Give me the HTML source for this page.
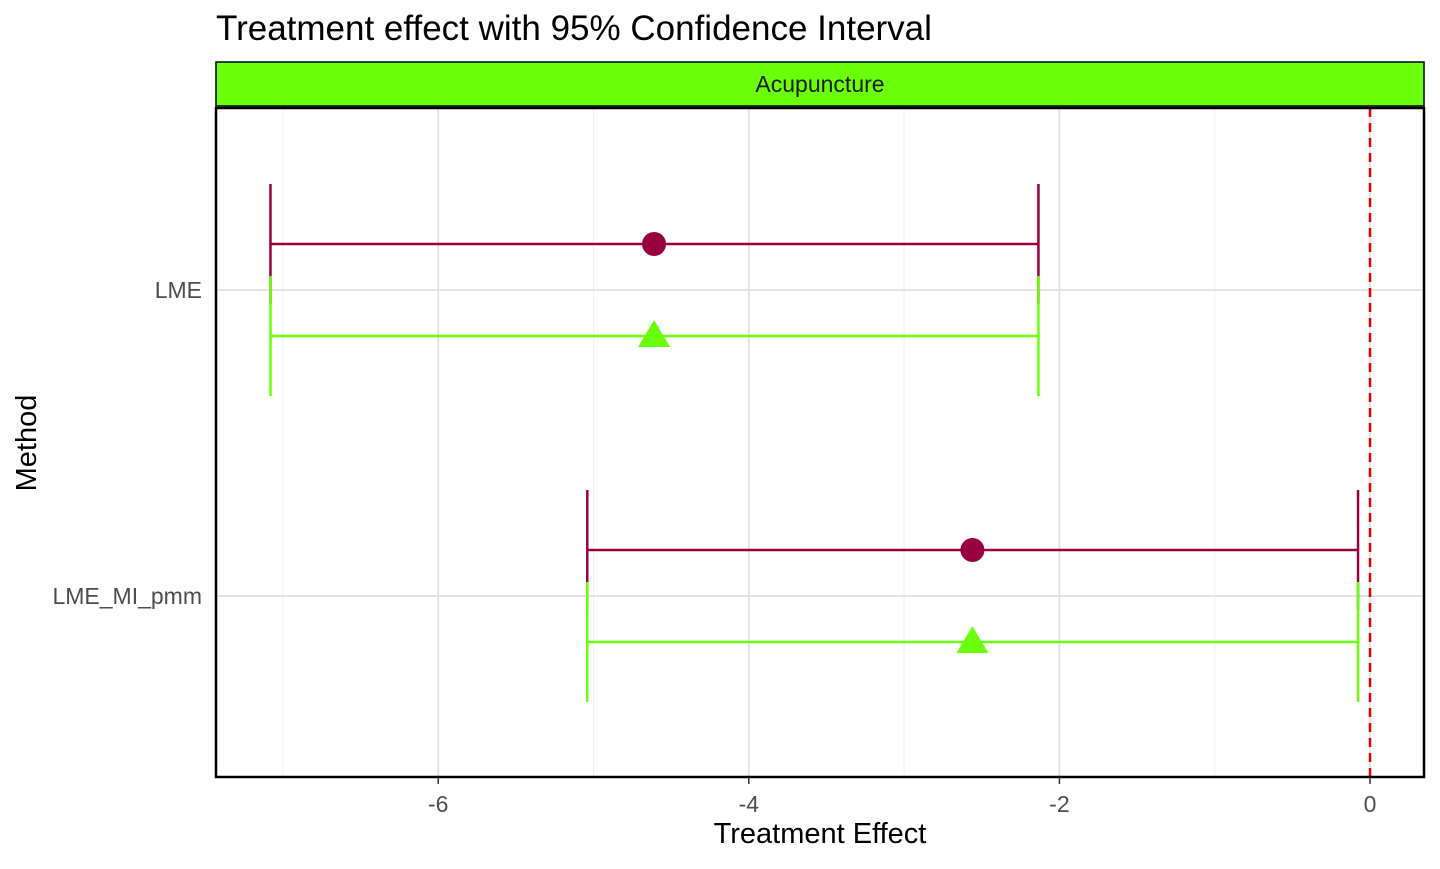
<!DOCTYPE html>
<html><head><meta charset="utf-8"><style>
body{margin:0;background:#fff;font-family:"Liberation Sans",Arial,sans-serif}
</style></head><body>
<svg id="chart" width="1440" height="864" xmlns="http://www.w3.org/2000/svg">
<text x="216" y="40" font-size="35" fill="#000">Treatment effect with 95% Confidence Interval</text>
<rect x="216" y="62" width="1208" height="44" fill="#6aff0a" stroke="#000" stroke-width="1.5"/>
<text x="820" y="92" font-size="23" text-anchor="middle" fill="#1a1a1a">Acupuncture</text>
<g id="grid"></g>
<g id="marks"></g>
<rect x="216" y="108" width="1208" height="669" fill="none" stroke="#000" stroke-width="2.5"/>
<g id="axes"></g>
<text x="820" y="843" font-size="29" text-anchor="middle" fill="#000">Treatment Effect</text>
<text x="36" y="443" font-size="29" text-anchor="middle" fill="#000" transform="rotate(-90 36 443)">Method</text>
</svg>
<script>
const methods=["LME","LME_MI_pmm"];
const estimates=[-4.61,-2.56];
const lower=[-7.08,-5.04];
const upper=[-2.135,-0.077];
const xTicks=[-6,-4,-2,0];
const xMinor=[-7,-5,-3,-1];
const NS="http://www.w3.org/2000/svg";
const X0=1370,K=155.3;
function sx(v){return X0+v*K;}
const yPos={"LME":290,"LME_MI_pmm":596};
function sy(m){return yPos[m];}
function mk(tag,at,parent){const e=document.createElementNS(NS,tag);for(const k in at)e.setAttribute(k,at[k]);document.getElementById(parent).appendChild(e);return e;}
xMinor.forEach(v=>{const l=mk('line',{x1:sx(v),x2:sx(v),y1:108,y2:777,stroke:'#f0f0f0','stroke-width':1},'grid');

});
xTicks.forEach(v=>{const l=mk('line',{x1:sx(v),x2:sx(v),y1:108,y2:777,stroke:'#e3e3e3','stroke-width':2},'grid');


const tk=mk('line',{x1:sx(v),x2:sx(v),y1:777,y2:784,stroke:'#333','stroke-width':1.5},'axes');


const t=mk('text',{x:sx(v),y:812,'font-size':23,'text-anchor':'middle',fill:'#4d4d4d'},'axes');t.textContent=v;

});
methods.forEach(m=>{const l=mk('line',{x1:216,x2:1424,y1:sy(m),y2:sy(m),stroke:'#e3e3e3','stroke-width':2},'grid');


const t=mk('text',{x:202,y:sy(m)+8,'font-size':23,'text-anchor':'end',fill:'#4d4d4d'},'axes');t.textContent=m;

});
const zl=mk('line',{x1:sx(0),x2:sx(0),y1:108,y2:777,stroke:'#e00000','stroke-width':2.5,'stroke-dasharray':'9,6'},'marks');


const series=[{c:'#990040',off:-46,shape:'circle'},{c:'#6aff0a',off:46,shape:'triangle'}];
series.forEach(s=>{methods.forEach((m,i)=>{const y=sy(m)+s.off;
const g=mk('g',{},'marks');


const a={stroke:s.c,'stroke-width':2.5};
[[sx(lower[i]),y,sx(upper[i]),y],[sx(lower[i]),y-60,sx(lower[i]),y+60],[sx(upper[i]),y-60,sx(upper[i]),y+60]].forEach(p=>{const l=document.createElementNS(NS,'line');l.setAttribute('x1',p[0]);l.setAttribute('y1',p[1]);l.setAttribute('x2',p[2]);l.setAttribute('y2',p[3]);for(const k in a)l.setAttribute(k,a[k]);g.appendChild(l);});
const x=sx(estimates[i]);let pt;
if(s.shape==='circle')pt=mk('circle',{cx:x,cy:y,r:12,fill:s.c},'marks');
else pt=mk('polygon',{points:`${x},${y-16} ${x-16},${y+11} ${x+16},${y+11}`,fill:s.c},'marks');

});});
</script>
</body></html>
